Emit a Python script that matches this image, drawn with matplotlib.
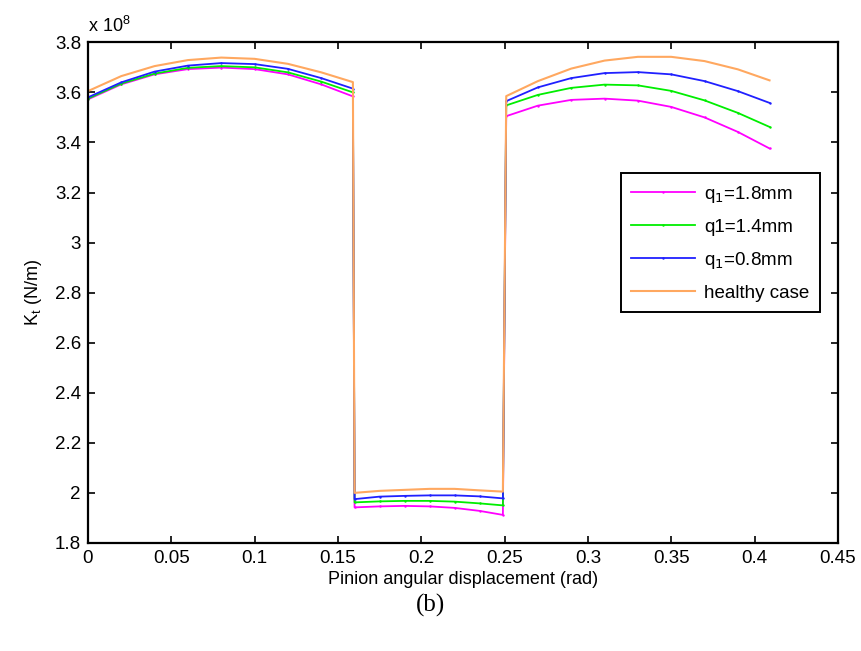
import matplotlib
matplotlib.use("Agg")
import matplotlib.pyplot as plt
from matplotlib.ticker import FuncFormatter

plt.rcParams['font.family'] = ['Liberation Sans', 'DejaVu Sans']

# x positions (rad) for the three meshing segments
x_seg1 = [0.0, 0.02, 0.04, 0.06, 0.08, 0.10, 0.12, 0.14, 0.159]
x_seg2 = [0.16, 0.175, 0.19, 0.205, 0.22, 0.235, 0.249]
x_seg3 = [0.251, 0.27, 0.29, 0.31, 0.33, 0.35, 0.37, 0.39, 0.409]

# stiffness values (x 1e8 N/m)
healthy = [3.605, 3.665, 3.705, 3.729, 3.739, 3.734, 3.714, 3.680, 3.641,
           2.000, 2.008, 2.012, 2.016, 2.016, 2.010, 2.005,
           3.585, 3.645, 3.695, 3.727, 3.742, 3.742, 3.725, 3.692, 3.648]
q08 = [3.580, 3.640, 3.683, 3.707, 3.717, 3.713, 3.694, 3.657, 3.615,
       1.975, 1.985, 1.988, 1.990, 1.990, 1.986, 1.978,
       3.565, 3.620, 3.657, 3.677, 3.681, 3.672, 3.645, 3.605, 3.558]
q14 = [3.575, 3.635, 3.675, 3.698, 3.705, 3.700, 3.680, 3.643, 3.600,
       1.962, 1.966, 1.968, 1.968, 1.965, 1.958, 1.950,
       3.548, 3.590, 3.618, 3.631, 3.628, 3.606, 3.568, 3.518, 3.462]
q18 = [3.572, 3.632, 3.672, 3.693, 3.699, 3.693, 3.672, 3.632, 3.584,
       1.942, 1.946, 1.948, 1.946, 1.940, 1.928, 1.912,
       3.505, 3.547, 3.570, 3.575, 3.567, 3.542, 3.500, 3.442, 3.376]

labels = ['q$_1$=1.8mm', 'q1=1.4mm', 'q$_1$=0.8mm', 'healthy case']
colors = ['#ff00ff', '#00ee00', '#2020ff', '#ffa860']
x_ticks = [0, 0.05, 0.1, 0.15, 0.2, 0.25, 0.3, 0.35, 0.4, 0.45]
y_ticks = [1.8, 2.0, 2.2, 2.4, 2.6, 2.8, 3.0, 3.2, 3.4, 3.6, 3.8]

x_all = x_seg1 + x_seg2 + x_seg3

fig = plt.figure(figsize=(8.62, 6.51), dpi=100)
ax = fig.add_axes([0.102, 0.166, 0.870, 0.769])

for vals, lab, col in zip([q18, q14, q08], labels[:3], colors[:3]):
    ax.plot(x_all, vals, color=col, lw=1.3, marker='.', markersize=1.5, label=lab)
ax.plot(x_all, healthy, color=colors[3], lw=1.5, label=labels[3])

ax.set_xlim(0, 0.45)
ax.set_ylim(1.8, 3.8)
ax.set_xticks(x_ticks)
ax.set_yticks(y_ticks)
ax.xaxis.set_major_formatter(FuncFormatter(lambda v, p: f"{v:g}"))
ax.yaxis.set_major_formatter(FuncFormatter(lambda v, p: f"{round(v, 2):g}"))
ax.tick_params(direction='in', length=5, width=1.2, top=True, right=True, labelsize=13.5, pad=5)
for s in ax.spines.values():
    s.set_linewidth(1.6)

ax.set_xlabel('Pinion angular displacement (rad)', fontsize=13, labelpad=3)
ax.set_ylabel('K$_\\mathregular{t}$ (N/m)', fontsize=13, labelpad=8)
ax.text(0.0, 1.012, 'x 10$^\\mathregular{8}$', transform=ax.transAxes, fontsize=13, ha='left', va='bottom')

leg = ax.legend(loc='upper right', bbox_to_anchor=(0.976, 0.7385), borderaxespad=0,
                fontsize=13.5, fancybox=False, edgecolor='black', framealpha=1,
                handlelength=3.4, borderpad=0.55, labelspacing=0.75, handletextpad=0.5)
leg.get_frame().set_linewidth(1.4)

fig.text(0.5, 0.07, '(b)', fontsize=18, family='Liberation Serif', ha='center', va='center')

fig.savefig('out.png', dpi=100)
